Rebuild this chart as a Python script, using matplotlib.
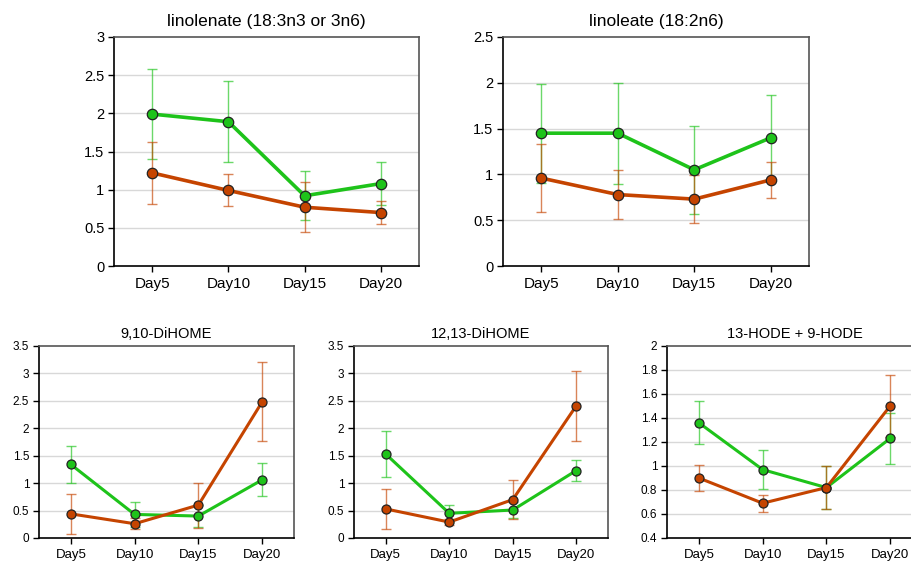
import numpy as np
import matplotlib
matplotlib.use("Agg")
import matplotlib.pyplot as plt

plt.rcParams['font.family'] = ['Liberation Sans', 'DejaVu Sans']

days = ["Day5", "Day10", "Day15", "Day20"]

# linolenate (18:3n3 or 3n6)
lnn_green = [1.99, 1.89, 0.92, 1.08]
lnn_green_err = [0.59, 0.53, 0.32, 0.28]
lnn_orange = [1.22, 0.99, 0.77, 0.70]
lnn_orange_err = [0.41, 0.21, 0.33, 0.15]

# linoleate (18:2n6)
lin_green = [1.45, 1.45, 1.05, 1.40]
lin_green_err = [0.54, 0.55, 0.48, 0.47]
lin_orange = [0.96, 0.78, 0.73, 0.94]
lin_orange_err = [0.37, 0.27, 0.26, 0.20]

# 9,10-DiHOME
d910_green = [1.34, 0.43, 0.40, 1.06]
d910_green_err = [0.33, 0.23, 0.20, 0.30]
d910_orange = [0.44, 0.26, 0.60, 2.48]
d910_orange_err = [0.36, 0.10, 0.41, 0.72]

# 12,13-DiHOME
d1213_green = [1.53, 0.45, 0.51, 1.23]
d1213_green_err = [0.42, 0.16, 0.14, 0.20]
d1213_orange = [0.53, 0.29, 0.70, 2.41]
d1213_orange_err = [0.37, 0.05, 0.35, 0.64]

# 13-HODE + 9-HODE
hode_green = [1.36, 0.97, 0.82, 1.23]
hode_green_err = [0.18, 0.16, 0.18, 0.21]
hode_orange = [0.90, 0.69, 0.82, 1.50]
hode_orange_err = [0.11, 0.07, 0.18, 0.26]

green = "#1ec31a"
orange = "#c54400"

W, H = 912, 564
fig = plt.figure(figsize=(W / 100, H / 100), dpi=100)


def panel(rect, title, g, ge, o, oe, ylim, yticks, ylabels, big):
    l, t, r, b = rect
    ax = fig.add_axes([l / W, (H - b) / H, (r - l) / W, (b - t) / H])
    x = np.arange(len(days))
    lw = 2.6 if big else 2.2
    ms = 7.5 if big else 6.5
    for vals, errs, c, z in [(g, ge, green, 3), (o, oe, orange, 4)]:
        ax.errorbar(x, vals, yerr=errs, fmt="none", ecolor=c, elinewidth=1,
                    capsize=3.5, capthick=1, alpha=0.65, zorder=z)
        ax.plot(x, vals, color=c, lw=lw, marker="o", ms=ms,
                markerfacecolor=c, markeredgecolor="#222222", mew=0.9, zorder=z + 2)
    ax.set_xlim(-0.5, 3.5)
    ax.set_ylim(*ylim)
    ax.set_yticks(yticks)
    ax.set_yticklabels(ylabels)
    ax.set_xticks(x)
    ax.set_xticklabels(days)
    for yt in yticks[1:-1]:
        ax.axhline(yt, color="#d8d8d8", lw=1, zorder=0)
    for s in ["left", "bottom"]:
        ax.spines[s].set_color("black")
        ax.spines[s].set_linewidth(1.2)
    for s in ["top", "right"]:
        ax.spines[s].set_color("#555555")
        ax.spines[s].set_linewidth(1.2)
    ax.tick_params(axis="y", length=4, width=1, pad=3,
                   labelsize=10.5 if big else 8.5)
    ax.tick_params(axis="x", length=4, width=1, pad=4,
                   labelsize=11 if big else 9.5)
    ax.set_title(title, fontsize=12.5 if big else 10.5, pad=8 if big else 6)
    return ax


panel((114, 37, 419, 266), "linolenate (18:3n3 or 3n6)",
      lnn_green, lnn_green_err, lnn_orange, lnn_orange_err,
      (0, 3), [0, 0.5, 1, 1.5, 2, 2.5, 3], ["0", "0.5", "1", "1.5", "2", "2.5", "3"], True)
panel((503, 37, 809, 266), "linoleate (18:2n6)",
      lin_green, lin_green_err, lin_orange, lin_orange_err,
      (0, 2.5), [0, 0.5, 1, 1.5, 2, 2.5], ["0", "0.5", "1", "1.5", "2", "2.5"], True)
panel((39, 346, 294, 538), "9,10-DiHOME",
      d910_green, d910_green_err, d910_orange, d910_orange_err,
      (0, 3.5), [0, 0.5, 1, 1.5, 2, 2.5, 3, 3.5],
      ["0", "0.5", "1", "1.5", "2", "2.5", "3", "3.5"], False)
panel((354, 346, 608, 538), "12,13-DiHOME",
      d1213_green, d1213_green_err, d1213_orange, d1213_orange_err,
      (0, 3.5), [0, 0.5, 1, 1.5, 2, 2.5, 3, 3.5],
      ["0", "0.5", "1", "1.5", "2", "2.5", "3", "3.5"], False)
panel((667, 346, 922, 538), "13-HODE + 9-HODE",
      hode_green, hode_green_err, hode_orange, hode_orange_err,
      (0.4, 2), [0.4, 0.6, 0.8, 1, 1.2, 1.4, 1.6, 1.8, 2],
      ["0.4", "0.6", "0.8", "1", "1.2", "1.4", "1.6", "1.8", "2"], False)

fig.savefig("out.png", dpi=100)
